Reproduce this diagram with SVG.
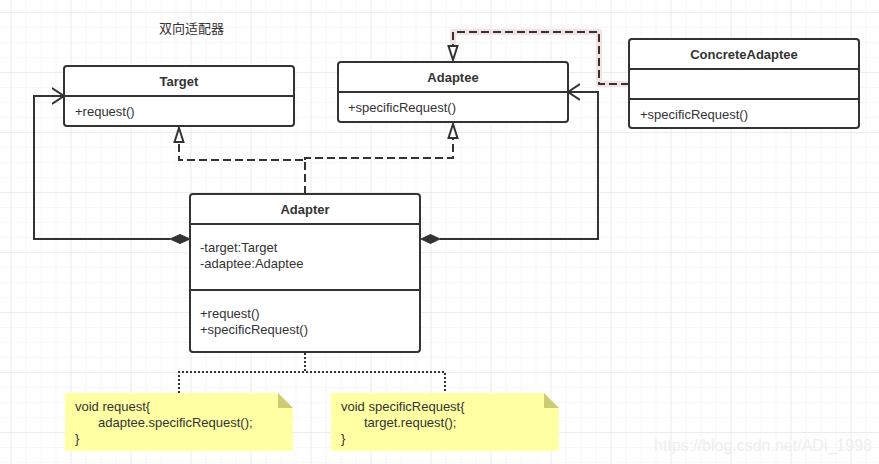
<svg xmlns="http://www.w3.org/2000/svg" width="879" height="464" viewBox="0 0 879 464">
<defs>
<pattern id="minor" x="10.5" y="12" width="15" height="15" patternUnits="userSpaceOnUse">
<path d="M0 0H15M0 0V15" fill="none" stroke="#efefef" stroke-width="1"/>
</pattern>
<pattern id="major" x="10.5" y="12" width="60" height="60" patternUnits="userSpaceOnUse">
<path d="M0 0H60M0 0V60" fill="none" stroke="#e2e2e2" stroke-width="1"/>
</pattern>
<marker id="open" markerWidth="14" markerHeight="18" refX="12" refY="9" orient="auto" markerUnits="userSpaceOnUse">
<path d="M0 1L12 9L0 17" fill="none" stroke="#333" stroke-width="2"/>
</marker>
<marker id="tri" markerWidth="17" markerHeight="12" refX="15" refY="6" orient="auto" markerUnits="userSpaceOnUse">
<path d="M1 1.5L15 6L1 10.5Z" fill="#fff" stroke="#333" stroke-width="2" stroke-linejoin="miter"/>
</marker>
</defs>
<style>
.box{fill:#fff;stroke:#333;stroke-width:2}
.div{stroke:#333;stroke-width:2}
.t{font-family:"Liberation Sans",Arial,sans-serif;font-size:13px;fill:#333}
.b{font-weight:bold;text-anchor:middle}
.c{fill:none;stroke:#333;stroke-width:2}
.d{stroke-dasharray:8 4}
.dot{stroke-dasharray:2 2}
.dia{fill:#333;stroke:#333;stroke-width:1}
.note{fill:#ffffa3}
.fold{fill:#cccc77}
</style>
<rect width="879" height="464" fill="#fff"/>
<rect width="879" height="464" fill="url(#minor)"/>
<rect width="879" height="464" fill="url(#major)"/>

<text x="159" y="33" font-family="'Noto Sans CJK SC',sans-serif" font-size="13" fill="#333">双向适配器</text>

<g id="connectors">
<path d="M629 84H599V32H453V46" fill="none" stroke="#f4e2e2" stroke-width="6" stroke-linejoin="round"/>
<path class="c" d="M170 239H34V96H64" marker-end="url(#open)"/>
<polygon class="dia" points="170,239 180,234.5 190,239 180,243.5"/>
<path class="c" d="M440 239H598V92H568" marker-end="url(#open)"/>
<polygon class="dia" points="421,239 430.5,234.5 440,239 430.5,243.5"/>
<path class="c d" d="M305 194V160H179V128" marker-end="url(#tri)"/>
<path class="c d" d="M305 160V158H453V124" marker-end="url(#tri)"/>
<path class="c d" d="M629 84H599V32H453V60" marker-end="url(#tri)"/>
<path class="c dot" d="M305 353V372"/>
<path class="c dot" d="M179 393V372H445V393"/>
</g>

<g id="target">
<rect class="box" x="64" y="66" width="230" height="60" rx="3"/>
<line class="div" x1="64" y1="96" x2="294" y2="96"/>
<text class="t b" x="179" y="86">Target</text>
<text class="t" x="75" y="116">+request()</text>
</g>

<g id="adaptee">
<rect class="box" x="338" y="62" width="230" height="60" rx="3"/>
<line class="div" x1="338" y1="92" x2="568" y2="92"/>
<text class="t b" x="453" y="82">Adaptee</text>
<text class="t" x="348" y="112">+specificRequest()</text>
</g>

<g id="concreteAdaptee">
<rect class="box" x="629" y="39" width="230" height="89" rx="3"/>
<line class="div" x1="629" y1="69" x2="859" y2="69"/>
<line class="div" x1="629" y1="99" x2="859" y2="99"/>
<text class="t b" x="744" y="59">ConcreteAdaptee</text>
<text class="t" x="640" y="119">+specificRequest()</text>
</g>

<g id="adapter">
<rect class="box" x="190" y="194" width="230" height="158" rx="3"/>
<line class="div" x1="190" y1="224" x2="420" y2="224"/>
<line class="div" x1="190" y1="290" x2="420" y2="290"/>
<text class="t b" x="305" y="214">Adapter</text>
<text class="t" x="200" y="252">-target:Target</text>
<text class="t" x="200" y="268">-adaptee:Adaptee</text>
<text class="t" x="200" y="318">+request()</text>
<text class="t" x="200" y="334">+specificRequest()</text>
</g>

<g id="note1">
<path class="note" d="M65 393H278L293 408V451H65Z"/>
<path class="fold" d="M278 393L293 408H278Z"/>
<text class="t" x="75" y="411">void request{</text>
<text class="t" x="98" y="427">adaptee.specificRequest();</text>
<text class="t" x="75" y="443">}</text>
</g>

<g id="note2">
<path class="note" d="M331 393H544L559 408V451H331Z"/>
<path class="fold" d="M544 393L559 408H544Z"/>
<text class="t" x="341" y="411">void specificRequest{</text>
<text class="t" x="364" y="427">target.request();</text>
<text class="t" x="341" y="443">}</text>
</g>

<text x="654" y="451" font-family="'Liberation Sans',Arial,sans-serif" font-size="16" fill="#eeeeee">https://blog.csdn.net/ADi_1998</text>
</svg>
